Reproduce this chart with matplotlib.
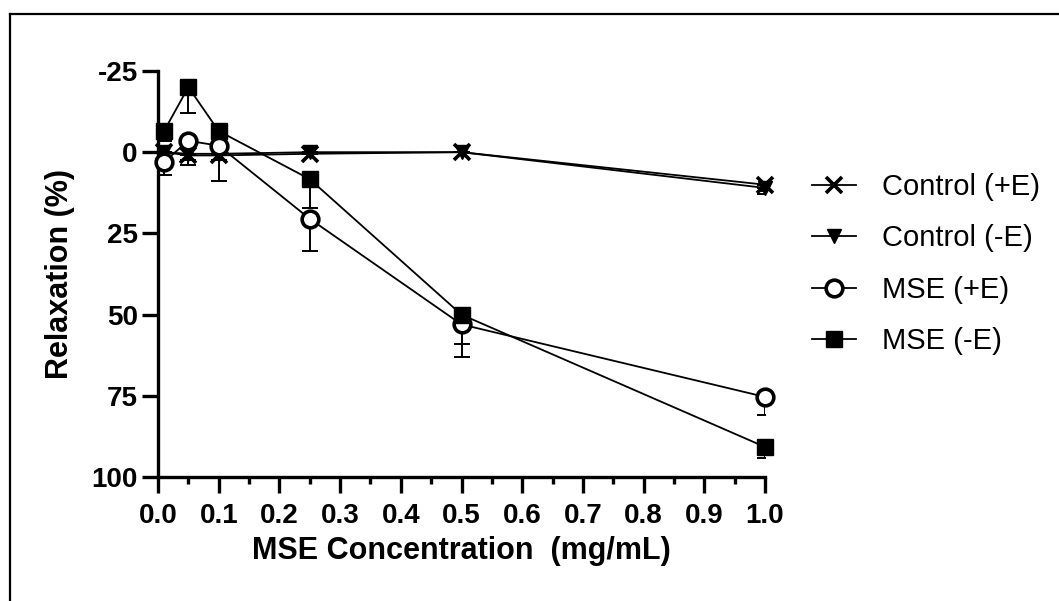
import numpy as np
import matplotlib
matplotlib.use("Agg")
import matplotlib.pyplot as plt
from matplotlib.lines import Line2D
from matplotlib.ticker import MultipleLocator

plt.rcParams["font.family"] = ["Liberation Sans", "DejaVu Sans"]
plt.rcParams["axes.unicode_minus"] = False

conc = [0.01, 0.05, 0.1, 0.25, 0.5, 1.0]

ctrl_pos = [0.0, 1.0, 1.0, 0.5, 0.0, 10.0]
ctrl_pos_err = [0.0, 3.0, 8.0, 0.0, 0.0, 2.0]

ctrl_neg = [0.0, 0.5, 0.5, 0.0, 0.0, 11.0]
ctrl_neg_err = [1.5, 2.0, 2.0, 0.0, 0.0, 2.0]

mse_pos = [3.0, -3.5, -2.0, 20.5, 53.0, 75.3]
mse_pos_err = [4.0, 1.0, 1.0, 10.0, 10.0, 5.5]

mse_neg = [-6.5, -20.0, -6.5, 8.3, 50.0, 90.7]
mse_neg_err = [3.0, 8.0, 1.5, 9.0, 9.0, 3.5]

# label, values, error, marker, face colour, size, edge width, z
series = [
    ("Control (+E)", ctrl_pos, ctrl_pos_err, "x", "black", 11, 2.6, 6),
    ("Control (-E)", ctrl_neg, ctrl_neg_err, "v", "black", 10, 1.0, 5),
    ("MSE (+E)", mse_pos, mse_pos_err, "o", "white", 12, 2.6, 7),
    ("MSE (-E)", mse_neg, mse_neg_err, "s", "black", 11, 1.0, 8),
]

fig = plt.figure(figsize=(10.59, 6.01), dpi=100)
ax = fig.add_axes([0.1492, 0.206, 0.5732, 0.676])

handles = []
for label, vals, err, mk, fc, ms, mew, z in series:
    yerr = [np.zeros(len(err)), np.array(err)]
    ax.errorbar(conc, vals, yerr=yerr, fmt="none", ecolor="black",
                elinewidth=1.4, capsize=6, capthick=1.4, zorder=2)
    ax.plot(conc, vals, color="black", lw=1.3, zorder=3)
    ax.plot(conc, vals, ls="none", marker=mk, ms=ms, mfc=fc, mec="black",
            mew=mew, zorder=z, clip_on=False)
    handles.append(Line2D([], [], color="black", lw=1.3, marker=mk, ms=ms,
                          mfc=fc, mec="black", mew=mew, label=label))

ax.set_xlim(0, 1.0)
ax.set_ylim(100, -25)
ax.xaxis.set_minor_locator(MultipleLocator(0.05))
ax.yaxis.set_major_locator(MultipleLocator(25))
ticks = np.arange(0, 1.01, 0.1)
ax.set_xticks(ticks)
ax.set_xticklabels([f"{v:.1f}" for v in ticks])

for s in ["top", "right"]:
    ax.spines[s].set_visible(False)
for s in ["left", "bottom"]:
    ax.spines[s].set_linewidth(2.4)

ax.tick_params(which="major", length=11.5, width=2.4, labelsize=20)
ax.tick_params(axis="x", which="major", pad=7)
ax.tick_params(axis="y", which="major", pad=3)
ax.tick_params(which="minor", length=5, width=2.4)
for lab in ax.get_xticklabels() + ax.get_yticklabels():
    lab.set_fontweight("bold")

ax.set_xlabel("MSE Concentration  (mg/mL)", fontsize=22, fontweight="bold",
              labelpad=5)
ax.set_ylabel("Relaxation (%)", fontsize=22, fontweight="bold", labelpad=12)

fig.legend(handles=handles, loc="upper left", bbox_to_anchor=(0.767, 0.712),
           frameon=False, fontsize=21, handlelength=1.5, handletextpad=0.9,
           labelspacing=0.8, borderpad=0, borderaxespad=0)

# outer frame
fig.add_artist(Line2D([10 / 1059, 10 / 1059], [0, 1 - 14 / 601],
                      transform=fig.transFigure, color="black", lw=1.6))
fig.add_artist(Line2D([10 / 1059, 1], [1 - 14 / 601, 1 - 14 / 601],
                      transform=fig.transFigure, color="black", lw=1.6))

fig.savefig("out.png", dpi=100)
